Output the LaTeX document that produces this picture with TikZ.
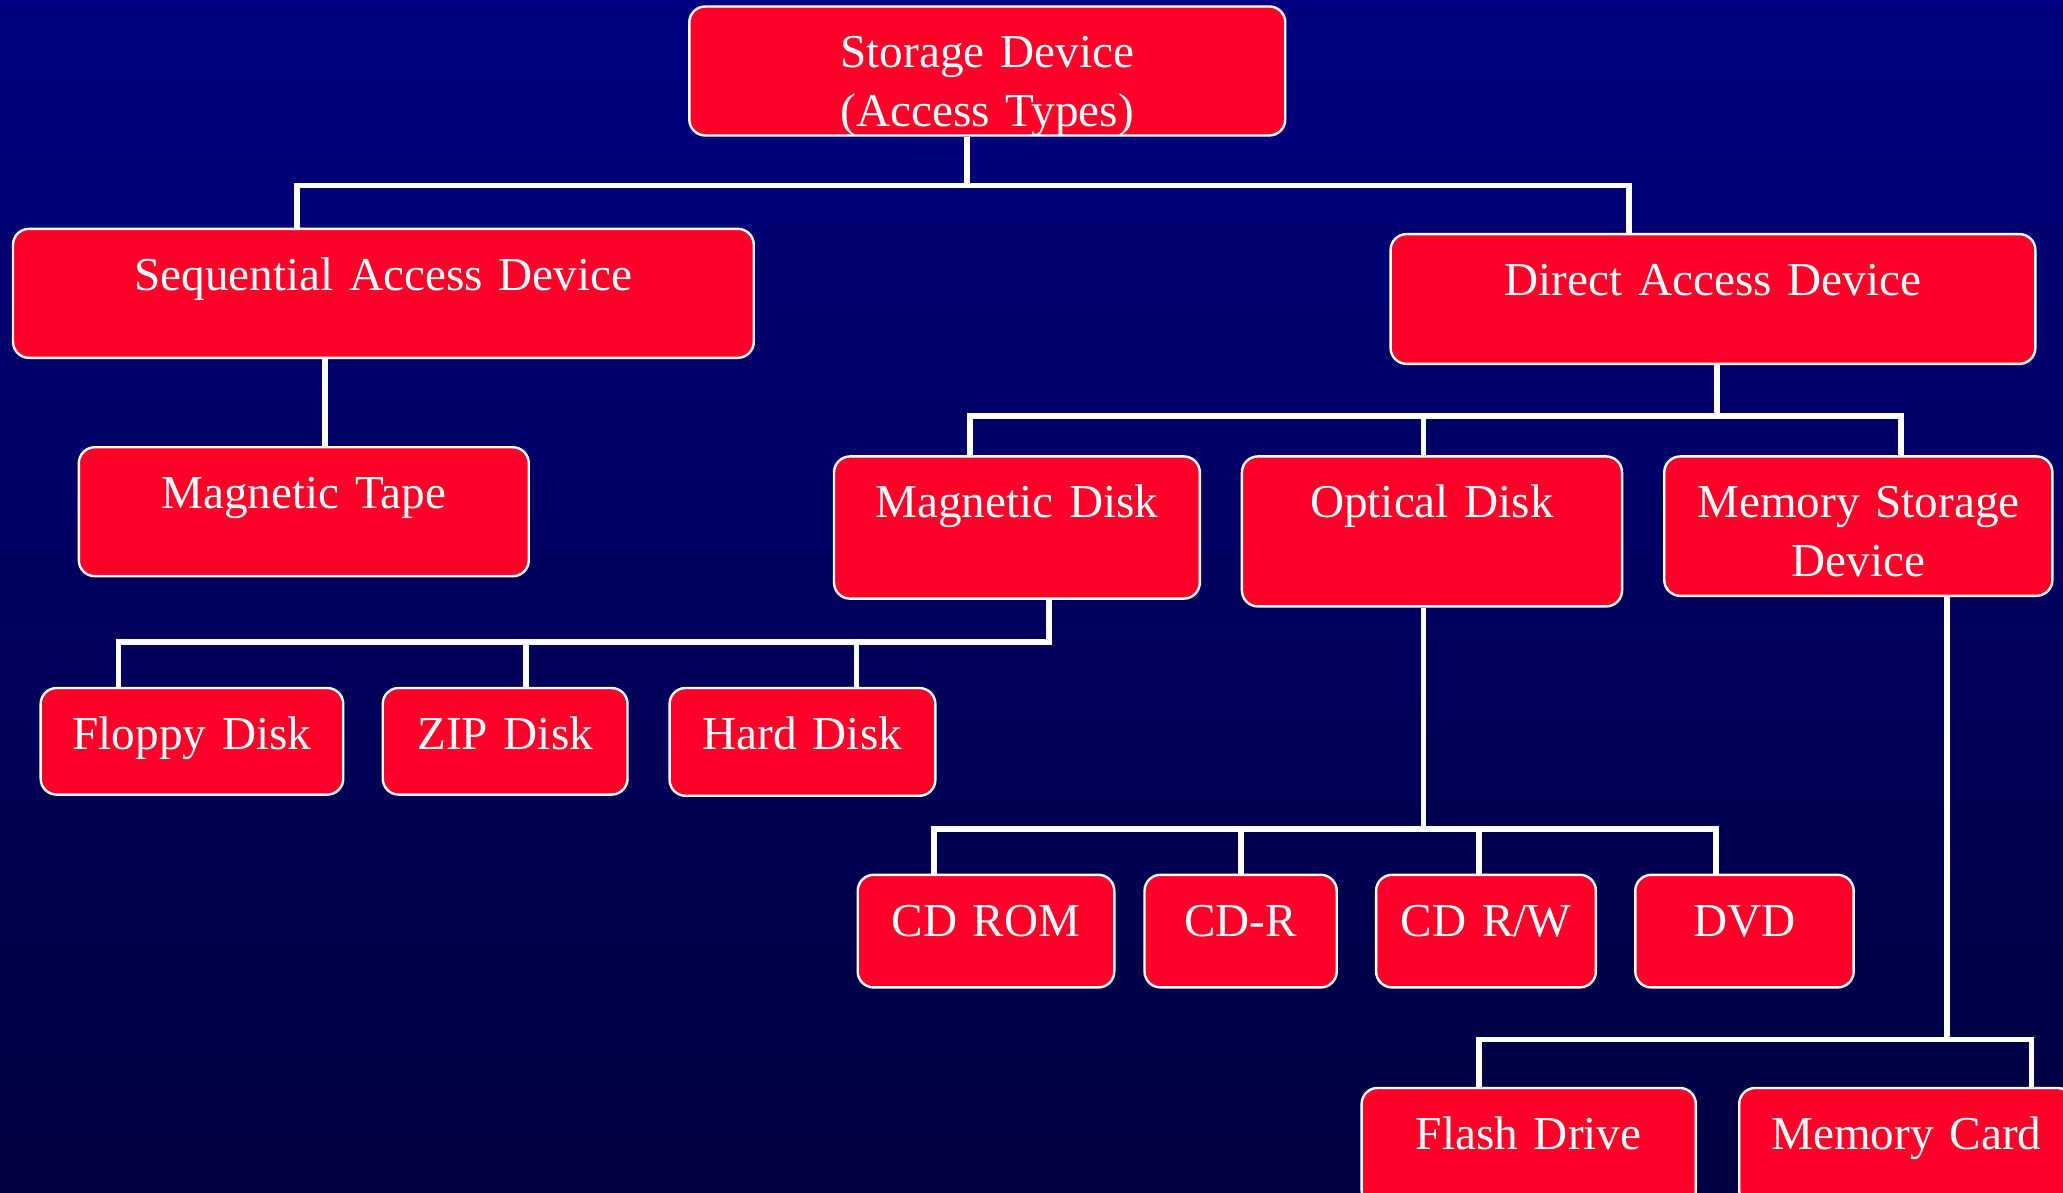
\documentclass[tikz,border=0pt]{standalone}
\usepackage{fontspec}
\setmainfont[WordSpace=0.7]{Liberation Serif}
\definecolor{boxred}{RGB}{255,0,40}
\definecolor{bgtop}{RGB}{0,0,128}
\definecolor{bgbot}{RGB}{0,0,62}
\begin{document}
\begin{tikzpicture}[x=0.6579pt,y=-0.6579pt,
  box/.style={draw=white, line width=1.2pt, fill=boxred, rounded corners=8pt,
    inner sep=0pt, align=center, anchor=north west, text=white,
    font=\fontsize{23.6}{29.3}\selectfont, text height=30.6pt},
  conn/.style={draw=white, line width=2.9pt}]
\useasboundingbox (0,0) rectangle (1568,906);
\clip (0,0) rectangle (1568,906);
\shade[top color=bgtop, bottom color=bgbot] (0,0) rectangle (1568,906);

% level 0
\node[box, text width=298.0pt, text depth=33.9pt] (storage) at (523,4) {Storage Device\\(Access Types)};
% level 1
\node[box, text width=370.4pt, text depth=33.9pt] (seq) at (9,173) {Sequential Access Device};
\node[box, text width=322.4pt, text depth=34.3pt] (direct) at (1056,177) {Direct Access Device};
% level 2
\node[box, text width=225.0pt, text depth=33.9pt] (tape) at (59,339) {Magnetic Tape};
\node[box, text width=182.9pt, text depth=40.5pt] (magdisk) at (633,346) {Magnetic Disk};
\node[box, text width=190.1pt, text depth=44.4pt] (optical) at (943,346) {Optical Disk};
\node[box, text width=194.1pt, text depth=39.1pt] (memsd) at (1264,346) {Memory Storage\\Device};
% level 3
\node[box, text width=151.3pt, text depth=22.7pt] (floppy) at (30,522) {Floppy Disk};
\node[box, text width=122.4pt, text depth=22.7pt] (zip) at (290,522) {ZIP Disk};
\node[box, text width=132.9pt, text depth=23.3pt] (hard) at (508,522) {Hard Disk};
\node[box, text width=128.3pt, text depth=25.7pt] (cdrom) at (651,664) {CD ROM};
\node[box, text width=96.1pt, text depth=25.7pt] (cdr) at (869,664) {CD-R};
\node[box, text width=109.9pt, text depth=25.7pt] (cdrw) at (1045,664) {CD R/W};
\node[box, text width=109.2pt, text depth=25.7pt] (dvd) at (1242,664) {DVD};
\node[box, text width=167.1pt, text depth=28.6pt] (flash) at (1034,826) {Flash Drive};
\node[box, text width=167.1pt, text depth=28.6pt] (memcard) at (1321,826) {Memory Card};

% connectors: storage
\coordinate (j0) at (735,141);
\coordinate (j0l) at (226,141);
\coordinate (j0r) at (1238,141);
\draw[conn] (storage.south -| j0) -- (j0);
\draw[conn] (seq.north -| j0l) -- (j0l) -- (j0r) -- (direct.north -| j0r);
% sequential
\coordinate (j1) at (247,300);
\draw[conn] (seq.south -| j1) -- (tape.north -| j1);
% direct
\coordinate (j2) at (1305,316);
\coordinate (j2l) at (737,316);
\coordinate (j2m) at (1082,316);
\coordinate (j2r) at (1445,316);
\draw[conn] (direct.south -| j2) -- (j2);
\draw[conn] (magdisk.north -| j2l) -- (j2l) -- (j2r) -- (memsd.north -| j2r);
\draw[conn] (j2m) -- (optical.north -| j2m);
% magnetic disk
\coordinate (j3) at (797,488);
\coordinate (j3a) at (90,488);
\coordinate (j3b) at (400,488);
\coordinate (j3c) at (651,488);
\draw[conn] (magdisk.south -| j3) -- (j3) -- (j3a) -- (floppy.north -| j3a);
\draw[conn] (j3b) -- (zip.north -| j3b);
\draw[conn] (j3c) -- (hard.north -| j3c);
% optical disk
\coordinate (j4) at (1082,630);
\coordinate (j4a) at (710,630);
\coordinate (j4b) at (943,630);
\coordinate (j4c) at (1124,630);
\coordinate (j4d) at (1304,630);
\draw[conn] (optical.south -| j4) -- (j4);
\draw[conn] (cdrom.north -| j4a) -- (j4a) -- (j4d) -- (dvd.north -| j4d);
\draw[conn] (j4b) -- (cdr.north -| j4b);
\draw[conn] (j4c) -- (cdrw.north -| j4c);
% memory storage
\coordinate (j5) at (1480,790);
\coordinate (j5a) at (1124,790);
\coordinate (j5b) at (1544,790);
\draw[conn] (memsd.south -| j5) -- (j5);
\draw[conn] (flash.north -| j5a) -- (j5a) -- (j5b) -- (memcard.north -| j5b);
\end{tikzpicture}
\end{document}
